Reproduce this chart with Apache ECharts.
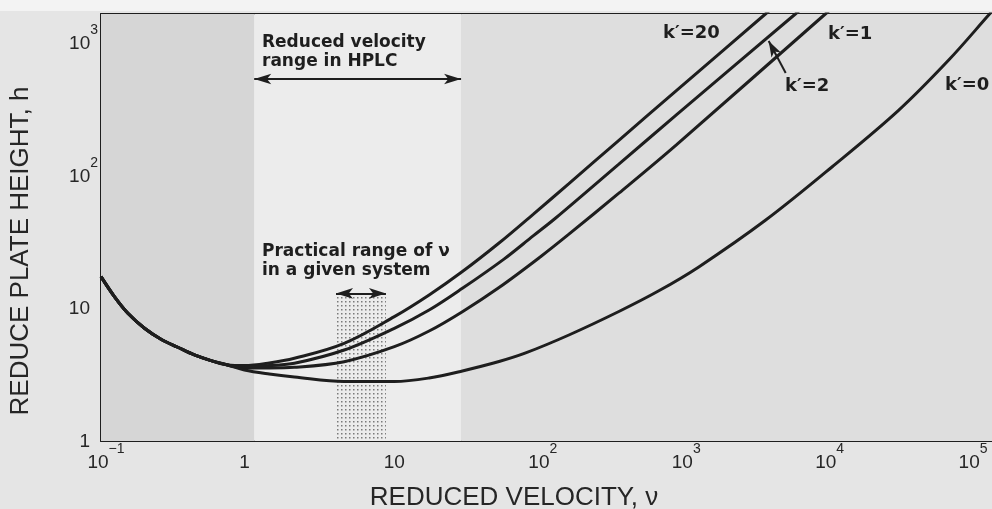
<!DOCTYPE html>
<html>
<head>
<meta charset="utf-8">
<script src="https://cdn.jsdelivr.net/npm/echarts@6/dist/echarts.min.js"></script>
<style>
  html, body { margin: 0; padding: 0; background: #e5e5e5; }
  #chart { width: 992px; height: 509px; }
</style>
</head>
<body>
<div id="chart"></div>
<script>
// Reduced plate height h versus reduced velocity nu for several capacity factors k'.
// Below nu = 1 all curves share one branch.
const commonNu = [0.1, 0.124, 0.154, 0.201, 0.262, 0.343, 0.448, 0.585, 0.764];
const commonH  = [17.4, 12.3, 9.2, 7.09, 5.86, 5.10, 4.46, 4.04, 3.75];

const k20Nu = [1.0, 1.49, 2.23, 4.96, 11.1, 19.4, 33.1, 59.6, 103, 183, 408, 1027, 4289, 6230];
const k20H  = [3.71, 3.88, 4.21, 5.46, 8.68, 12.65, 19.0, 31.2, 51.4, 87.6, 186, 441, 1670, 2364];

const k2Nu = [1.0, 1.49, 2.23, 4.96, 11.1, 19.4, 33.1, 64.5, 103, 148, 408, 1027, 6937, 10080];
const k2H  = [3.62, 3.71, 3.86, 4.86, 7.09, 9.74, 14.2, 23.6, 35.3, 48.2, 123, 289, 1670, 2364];

const k1Nu = [1.0, 1.49, 2.23, 4.96, 11.1, 19.4, 33.1, 59.6, 116, 183, 408, 1027, 11220, 16310];
const k1H  = [3.56, 3.56, 3.60, 3.97, 5.15, 6.76, 9.46, 14.4, 24.6, 36.4, 74.2, 172, 1670, 2364];

const k0Nu = [1.0, 1.49, 2.23, 4.96, 11.1, 19.4, 33.1, 59.6, 91.4, 183, 408, 775, 1472, 4289, 12480, 36360, 81060, 153900, 180700];
const k0H  = [3.43, 3.20, 3.04, 2.81, 2.81, 2.99, 3.38, 3.98, 4.62, 6.31, 9.49, 13.6, 20.6, 46.3, 117, 313, 747, 1633, 1990];

// Velocity ranges marked on the plot
const hplcRange = [1.17, 32.4];
const practicalRange = [4.35, 9.7];
const hplcArrowH = 540;
const practicalArrowH = 13.0;
const practicalTopH = 12.4;

// Axis extents
const xMin = 0.1, xMax = 163000;
const yMin = 1, yMax = 1670;

// Tick labels: [mantissa text, superscript]
const xTickLabels = [['10', '\u22121'], ['1', ''], ['10', ''], ['10', '2'], ['10', '3'], ['10', '4'], ['10', '5']];
const yTickLabels = [['1', ''], ['10', ''], ['10', '2'], ['10', '3']];

// Curve annotations
const curveNames = ["k\u2032=20", "k\u2032=2", "k\u2032=1", "k\u2032=0"];

function curve(nu, h) {
  const pts = commonNu.map((v, i) => [v, commonH[i]]);
  nu.forEach((v, i) => pts.push([v, h[i]]));
  return pts;
}

function powerIndex(v) {
  const p = Math.log10(v);
  const r = Math.round(p);
  return Math.abs(p - r) < 1e-6 ? r : null;
}

// dotted screen for the practical range
const dots = document.createElement('canvas');
dots.width = 4; dots.height = 4;
(function () {
  const c = dots.getContext('2d');
  c.fillStyle = '#7a7a7a';
  c.fillRect(1, 1, 1.5, 1.5);
})();

const labelFont = 'Liberation Sans';
const baseTok = { fontSize: 19, lineHeight: 30, verticalAlign: 'bottom', fontFamily: labelFont, color: '#262626' };
const ySupTok = { fontSize: 14, lineHeight: 14, verticalAlign: 'top', fontFamily: labelFont, color: '#262626' };
const xSupTok = { fontSize: 14, lineHeight: 20, verticalAlign: 'top', fontFamily: labelFont, color: '#262626' };

const xRich = {
  bn: Object.assign({}, baseTok, { padding: [0, 0, 0, 10] }),
  b1: Object.assign({}, baseTok),
  bt: Object.assign({}, baseTok, { padding: [0, 0, 0, 13] }),
  bp: Object.assign({}, baseTok, { padding: [0, 0, 0, 23] }),
  s: xSupTok
};
const yRich = {
  b: Object.assign({}, baseTok),
  bq: Object.assign({}, baseTok, { padding: [0, 8, 0, 0] }),
  s: ySupTok
};

function xLabel(v) {
  const p = powerIndex(v);
  if (p === null) return '';
  const t = xTickLabels[p + 1];
  if (!t) return '';
  if (t[1] === '') return (t[0] === '1' ? '{b1|' : '{bt|') + t[0] + '}';
  return (t[1].length > 1 ? '{bn|' : '{bp|') + t[0] + '}{s|' + t[1] + '}';
}
function yLabel(v) {
  const p = powerIndex(v);
  if (p === null) return '';
  const t = yTickLabels[p];
  if (!t) return '';
  if (t[1] === '') return '{bq|' + t[0] + '}';
  return '{b|' + t[0] + '}{s|' + t[1] + '}';
}

const ink = '#1e1e1e';
const axisLine = { show: true, lineStyle: { color: ink, width: 2 } };
const axisTick = { show: true, inside: true, length: 7, lineStyle: { color: ink, width: 2 } };

const chart = echarts.init(document.getElementById('chart'), null, { renderer: 'canvas' });

const lineSeries = [[k20Nu, k20H], [k2Nu, k2H], [k1Nu, k1H], [k0Nu, k0H]].map((c, i) => ({
  name: curveNames[i],
  type: 'line',
  data: curve(c[0], c[1]),
  showSymbol: false,
  symbol: 'none',
  smooth: 0.35,
  clip: true,
  z: 3,
  lineStyle: { color: ink, width: 3 }
}));

const annFont = 'bold 17px "DejaVu Sans"';
const kFont = 'bold 18px "DejaVu Sans"';

chart.setOption({
  animation: false,
  backgroundColor: '#e5e5e5',
  grid: { left: 101, top: 14, right: -1, bottom: 68 },
  xAxis: [
    {
      type: 'log', logBase: 10, min: xMin, max: xMax, position: 'bottom',
      axisLine, axisTick,
      axisLabel: { formatter: xLabel, rich: xRich, margin: 1, showMaxLabel: false },
      splitLine: { show: false }, minorTick: { show: false }
    },
    {
      type: 'log', logBase: 10, min: xMin, max: xMax, position: 'top',
      axisLine, axisTick, axisLabel: { show: false }, splitLine: { show: false }
    }
  ],
  yAxis: [
    {
      type: 'log', logBase: 10, min: yMin, max: yMax, position: 'left',
      axisLine, axisTick,
      axisLabel: { formatter: yLabel, rich: yRich, margin: 3, padding: [0, 0, 10, 0], showMaxLabel: false },
      splitLine: { show: false }, minorTick: { show: false }
    },
    {
      type: 'log', logBase: 10, min: yMin, max: yMax, position: 'right',
      axisLine, axisTick, axisLabel: { show: false }, splitLine: { show: false }
    }
  ],
  series: [
    {
      type: 'line', data: [], z: 1, silent: true,
      markArea: {
        silent: true,
        data: [
          [{ xAxis: xMin, itemStyle: { color: '#d6d6d6' } }, { xAxis: hplcRange[0] }],
          [{ xAxis: hplcRange[0], itemStyle: { color: '#ececec' } }, { xAxis: hplcRange[1] }],
          [{ xAxis: hplcRange[1], itemStyle: { color: '#dedede' } }, { xAxis: xMax }],
          [{ xAxis: practicalRange[0], yAxis: practicalTopH, itemStyle: { color: { image: dots, repeat: 'repeat' } } },
           { xAxis: practicalRange[1], yAxis: yMin }]
        ]
      }
    },
    ...lineSeries,
    {
      type: 'line', data: [], z: 4, silent: true,
      markLine: {
        silent: true,
        symbol: ['arrow', 'arrow'],
        symbolSize: [8, 17],
        label: { show: false },
        lineStyle: { color: ink, width: 2, type: 'solid' },
        data: [
          [{ coord: [hplcRange[0], hplcArrowH] }, { coord: [hplcRange[1], hplcArrowH] }],
          [{ coord: [practicalRange[0], practicalArrowH] }, { coord: [practicalRange[1], practicalArrowH] }],
          [{ coord: [5940, 599], symbol: 'none' }, { coord: [4520, 1045], symbol: 'arrow', symbolSize: [8, 16] }]
        ]
      }
    }
  ],
  graphic: [
    { type: 'rect', left: 0, top: 0, shape: { width: 992, height: 11 }, style: { fill: '#f3f3f3' }, z: 0 },
    { type: 'text', left: 262, top: 33, style: { text: 'Reduced velocity\nrange in HPLC', font: annFont, lineHeight: 19, fill: ink }, z: 10 },
    { type: 'text', left: 262, top: 242, style: { text: 'Practical range of \u03bd\nin a given system', font: annFont, lineHeight: 19, fill: ink }, z: 10 },
    { type: 'text', left: 663, top: 24, style: { text: curveNames[0], font: kFont, fill: ink }, z: 10 },
    { type: 'text', left: 785, top: 77, style: { text: curveNames[1], font: kFont, fill: ink }, z: 10 },
    { type: 'text', left: 828, top: 25, style: { text: curveNames[2], font: kFont, fill: ink }, z: 10 },
    { type: 'text', left: 945, top: 76, style: { text: curveNames[3], font: kFont, fill: ink }, z: 10 },
    { type: 'text', x: 514, y: 498, style: { text: 'REDUCED VELOCITY, \u03bd', font: '26px "Liberation Sans"', align: 'center', verticalAlign: 'middle', fill: '#262626' }, z: 10 },
    { type: 'text', x: 21, y: 251, rotation: Math.PI / 2, style: { text: 'REDUCE PLATE HEIGHT, h', font: '26px "Liberation Sans"', align: 'center', verticalAlign: 'middle', fill: '#262626' }, z: 10 }
  ]
});
</script>
</body>
</html>
